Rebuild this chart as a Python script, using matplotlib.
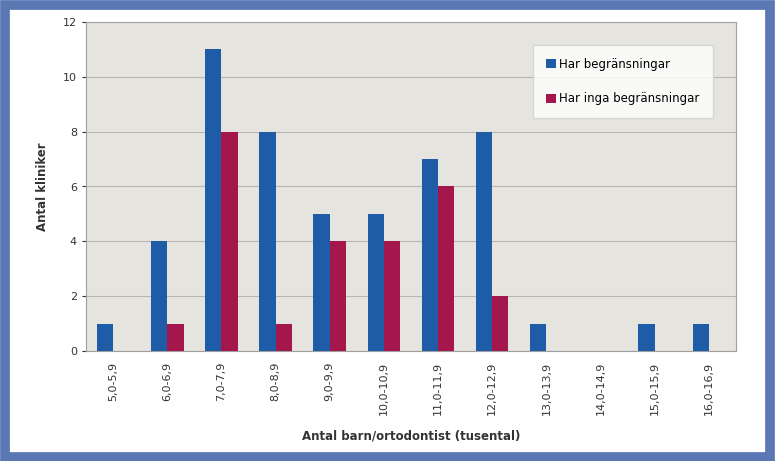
import numpy as np
import matplotlib.pyplot as plt
from matplotlib.patches import Rectangle

kategorier = ['5,0-5,9', '6,0-6,9', '7,0-7,9', '8,0-8,9', '9,0-9,9', '10,0-10,9',
              '11,0-11,9', '12,0-12,9', '13,0-13,9', '14,0-14,9', '15,0-15,9', '16,0-16,9']
har_begr = [1, 4, 11, 8, 5, 5, 7, 8, 1, 0, 1, 1]
inga_begr = [0, 1, 8, 1, 4, 4, 6, 2, 0, 0, 0, 0]

fig = plt.figure(figsize=(7.77, 4.61), dpi=100)
fig.patch.set_facecolor('white')
# blå ram runt hela bilden
fig.patches.append(Rectangle((0.006, 0.008), 0.985, 0.982, transform=fig.transFigure,
                             fill=False, edgecolor='#5B77B4', linewidth=7))

ax = fig.add_axes([86 / 777, 1 - 351 / 461, 650 / 777, 329 / 461])
ax.set_facecolor('#E6E4DE')

x = np.arange(len(kategorier))
w = 0.3
ax.bar(x - w / 2, har_begr, w, color='#1F5CA8', label='Har begränsningar', zorder=3)
ax.bar(x + w / 2, inga_begr, w, color='#A3174C', label='Har inga begränsningar', zorder=3)

ax.set_xlim(-0.5, len(kategorier) - 0.5)
ax.set_ylim(0, 12)
ax.set_yticks(range(0, 13, 2))
ax.yaxis.grid(True, color='#B8B6B0', linewidth=0.8, zorder=0)
ax.set_xticks(x)
ax.set_xticklabels(kategorier, rotation=90, fontsize=8, color='#333333')
ax.tick_params(axis='y', labelsize=8, colors='#333333', length=3)
ax.tick_params(axis='x', length=0, pad=8)
for s in ax.spines.values():
    s.set_color('#A0A0A0')

ax.set_ylabel('Antal kliniker', fontsize=8.5, fontweight='bold', color='#333333', labelpad=10)
ax.set_xlabel('Antal barn/ortodontist (tusental)', fontsize=8.5, fontweight='bold',
              color='#333333', labelpad=10)

leg = ax.legend(loc='upper left', bbox_to_anchor=(0.688, 0.93), fontsize=8.5, frameon=True,
                fancybox=False, edgecolor='#D0D0D0', handlelength=0.8, handleheight=0.8,
                labelspacing=1.8, borderpad=1.1, handletextpad=0.3, borderaxespad=0)
leg.get_frame().set_facecolor('white')

fig.savefig('out.png', dpi=100)
